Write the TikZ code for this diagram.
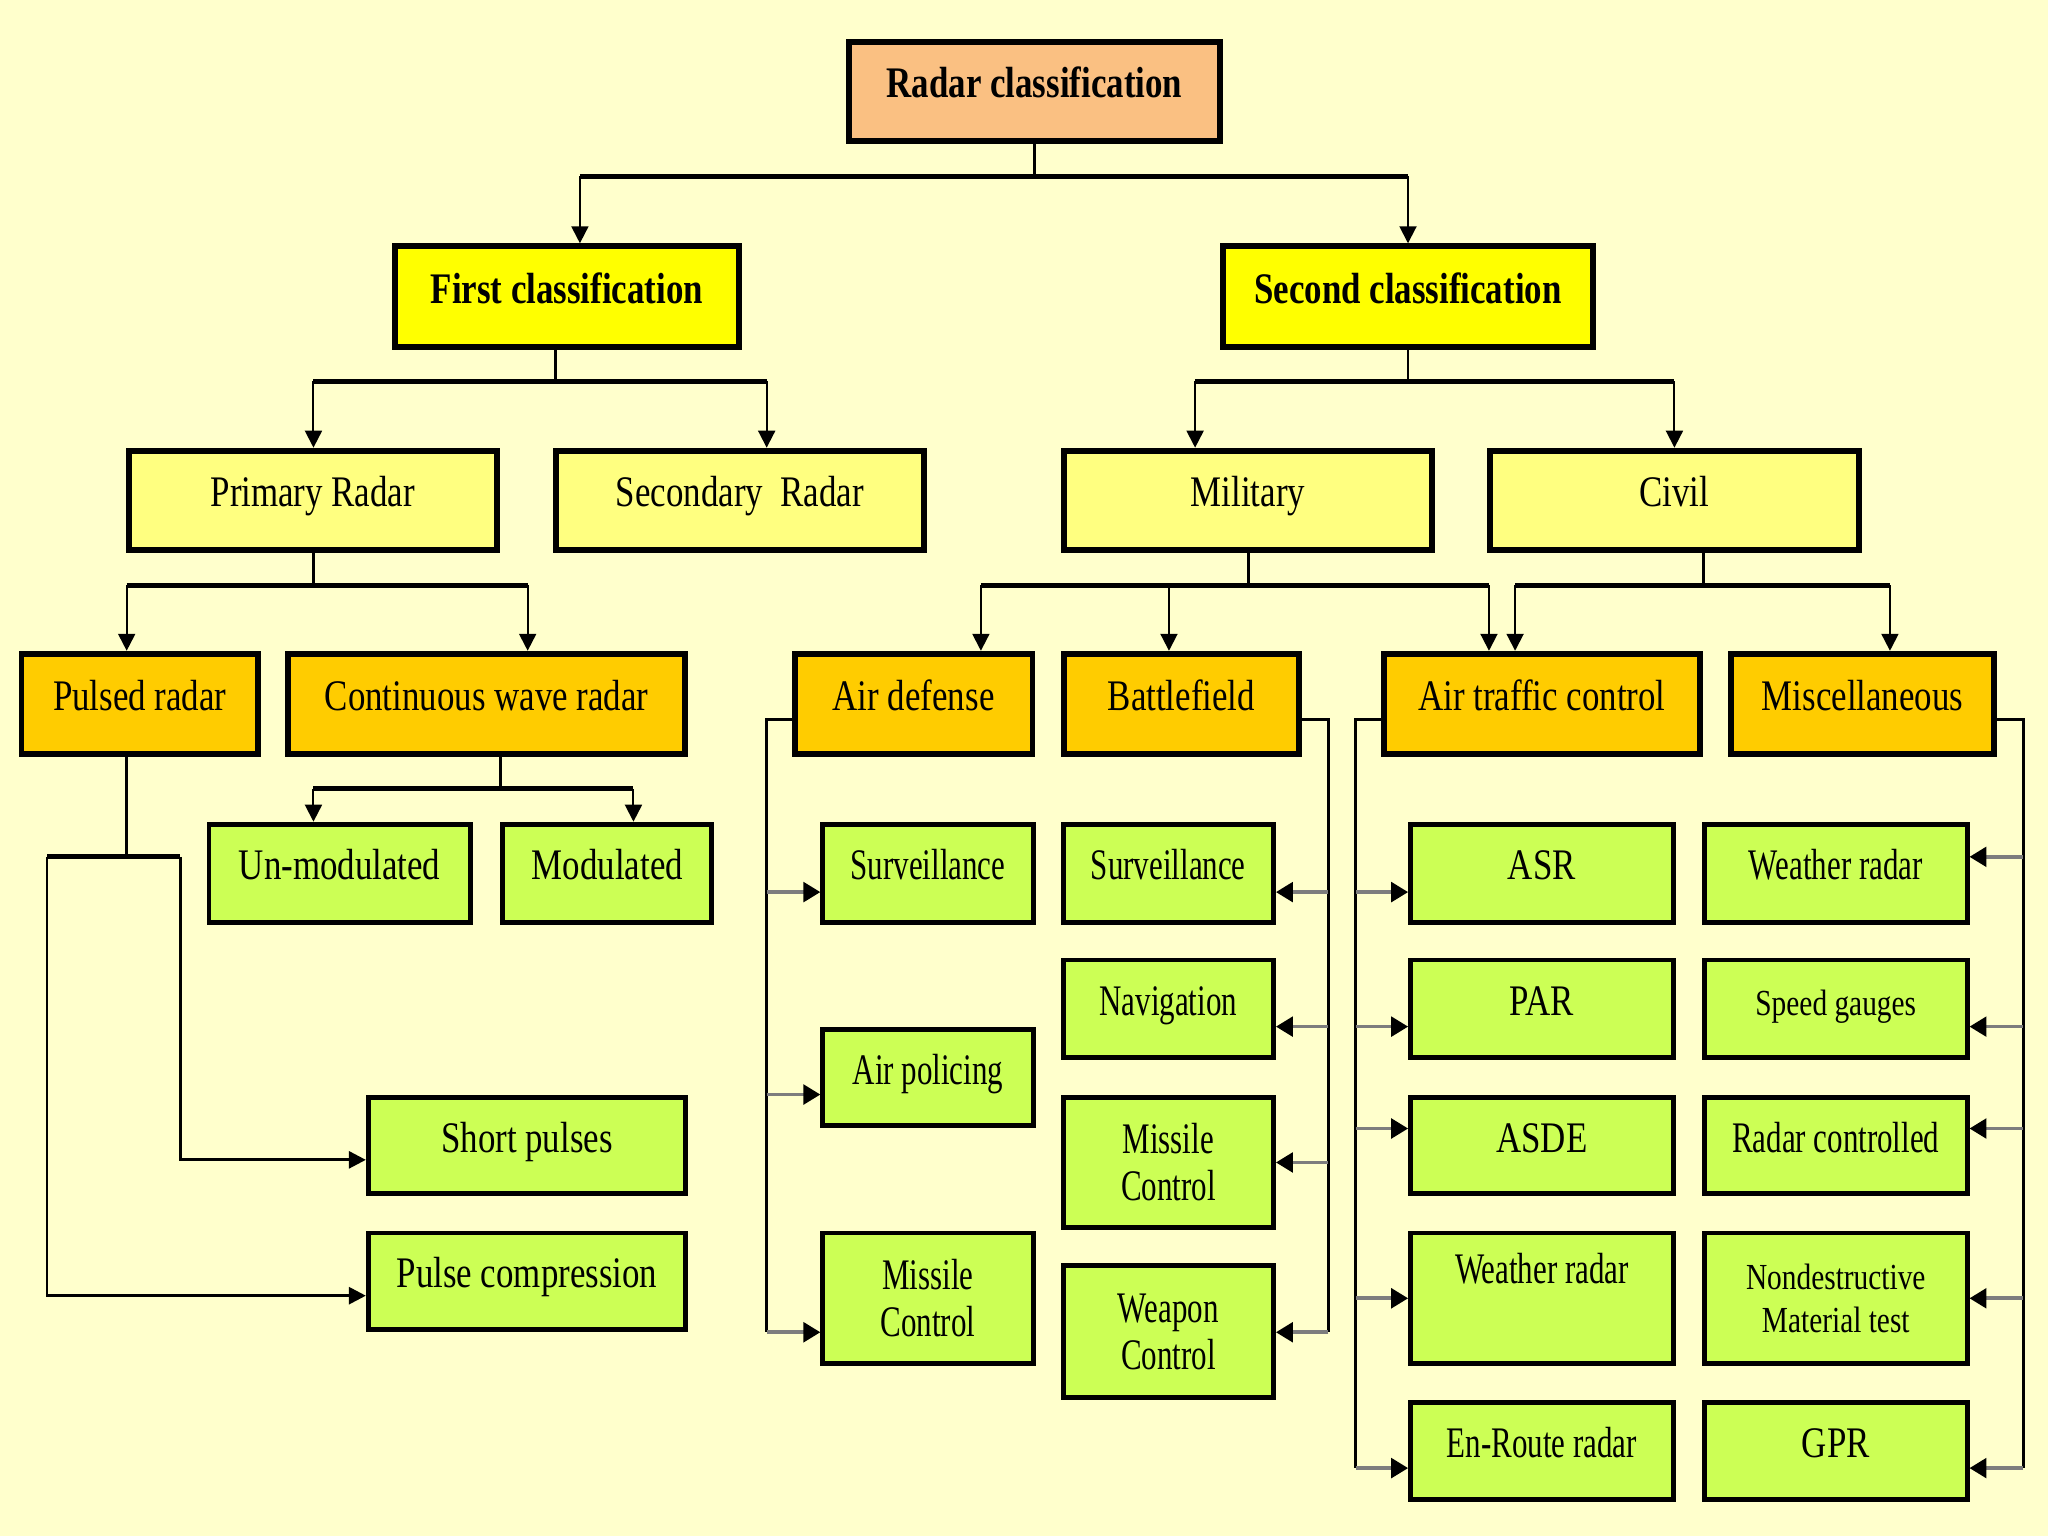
\documentclass[tikz,border=0pt]{standalone}
\usepackage{fontspec}
\setmainfont{Liberation Serif}[FakeStretch=0.8, BoldFeatures={FakeStretch=0.8}]
\newfontfamily\estrecha{Liberation Serif}[FakeStretch=0.71]
\usetikzlibrary{arrows.meta}
\definecolor{crema}{RGB}{255,255,204}
\definecolor{pastel}{RGB}{250,192,130}
\definecolor{canario}{RGB}{255,255,0}
\definecolor{paja}{RGB}{255,255,128}
\definecolor{ambar}{RGB}{255,204,0}
\definecolor{pistacho}{RGB}{204,255,85}
\definecolor{gris}{RGB}{125,125,125}

\begin{document}
\begin{tikzpicture}[x=0.1mm, y=-0.1mm,
    caja/.style={draw, line width=0.45mm, inner sep=0pt, font=\fontsize{9.5}{10.4}\selectfont},
    una/.style={text height=2.4mm, text depth=1.4mm},
    tam/.style 2 args={minimum width=#1mm, minimum height=#2mm},
    melocoton/.style={caja, una, fill=pastel, font=\fontsize{9.5}{10.4}\selectfont\bfseries},
    amarillo/.style={caja, una, fill=canario, font=\fontsize{9.5}{10.4}\selectfont\bfseries},
    amarillito/.style={caja, una, fill=paja},
    naranja/.style={caja, una, fill=ambar},
    verde/.style={caja, una, fill=pistacho, line width=0.38mm},
    verdes/.style={caja, fill=pistacho, line width=0.38mm, align=center},
    chica/.style={font=\fontsize{8}{9.4}\selectfont},
    estrecha/.style={font=\estrecha\fontsize{9.5}{10.2}\selectfont},
    linea/.style={line width=0.22mm},
    barra/.style={line width=0.38mm},
    flecha/.style={line width=0.15mm, -{Triangle[width=1.3mm, length=1.3mm]}},
    ramal/.style={draw=gris, line width=0.28mm, -{Triangle[width=1.5mm, length=1.3mm, color=black]}}]
        \fill[crema] (0,0) rectangle (1568,1176);
        \useasboundingbox (0,0) rectangle (1568,1176);

        \node[melocoton, tam={28.4}{7.6}] (R) at (792,70) {Radar classification};
        \node[amarillo, tam={26.3}{7.7}] (FC) at (434,227) {First classification};
        \node[amarillo, tam={28.3}{7.7}] (SC) at (1078,227) {Second classification};

        \node[amarillito, tam={28.2}{7.6}] (PR) at (239.5,383) {Primary Radar};
        \node[amarillito, tam={28.2}{7.6}] (SR) at (566.5,383) {Secondary~ Radar};
        \node[amarillito, tam={28.2}{7.6}] (MI) at (955.5,383) {Military};
        \node[amarillito, tam={28.3}{7.6}] (CI) at (1282,383) {Civil};

        \node[naranja, tam={18.1}{7.7}] (PU) at (107,539) {Pulsed radar};
        \node[naranja, tam={30.4}{7.7}] (CW) at (372.5,539) {Continuous wave radar};
        \node[naranja, tam={18.2}{7.7}] (AD) at (699.5,539) {Air defense};
        \node[naranja, tam={18.0}{7.7}] (BF) at (904.5,539) {Battlefield};
        \node[naranja, tam={24.2}{7.7}] (AT) at (1180.5,539) {Air traffic control};
        \node[naranja, tam={20.1}{7.7}] (MS) at (1426,539) {Miscellaneous};

        \node[verde, tam={20.0}{7.5}] (UM) at (260,668.5) {Un-modulated};
        \node[verde, tam={16.0}{7.5}] (MO) at (465,668.5) {Modulated};
        \node[verde, tam={24.3}{7.4}] (SP) at (403.5,877) {Short pulses};
        \node[verde, tam={24.3}{7.4}] (PC) at (403.5,981) {Pulse compression};

        \node[verde, estrecha, tam={16.1}{7.5}] (AD1) at (710.5,668.5) {Surveillance};
        \node[verde, estrecha, tam={16.1}{7.4}] (AD2) at (710.5,825) {Air policing};
        \node[verdes, estrecha, tam={16.1}{10.0}] (AD3) at (710.5,994) {Missile\\Control};

        \node[verde, estrecha, tam={16.1}{7.5}] (BF1) at (894.5,668.5) {Surveillance};
        \node[verde, estrecha, tam={16.1}{7.5}] (BF2) at (894.5,772.5) {Navigation};
        \node[verdes, estrecha, tam={16.1}{10.0}] (BF3) at (894.5,890) {Missile\\Control};
        \node[verdes, estrecha, tam={16.1}{10.1}] (BF4) at (894.5,1019.5) {Weapon\\Control};

        \node[verde, tam={20.1}{7.5}] (AT1) at (1180.5,668.5) {ASR};
        \node[verde, tam={20.1}{7.5}] (AT2) at (1180.5,772.5) {PAR};
        \node[verde, tam={20.1}{7.4}] (AT3) at (1180.5,877) {ASDE};
        \node[verde, estrecha, tam={20.1}{10.0}, text depth=4.6mm] (AT4) at (1180.5,994) {Weather radar};
        \node[verde, estrecha, tam={20.1}{7.4}] (AT5) at (1180.5,1111) {En-Route radar};

        \node[verde, estrecha, tam={20.1}{7.5}] (MS1) at (1405.5,668.5) {Weather radar};
        \node[verde, chica, tam={20.1}{7.5}] (MS2) at (1405.5,772.5) {Speed gauges};
        \node[verde, estrecha, tam={20.1}{7.4}] (MS3) at (1405.5,877) {Radar controlled};
        \node[verdes, chica, tam={20.1}{10.0}] (MS4) at (1405.5,994) {Nondestructive\\Material test};
        \node[verde, tam={20.1}{7.4}] (MS5) at (1405.5,1111) {GPR};

        \draw[linea] (R.south) -- (792,135);
        \draw[barra] (444,135) -- (1078,135);
        \draw[flecha] (444,135) -- (FC.north -| 444,0);
        \draw[flecha] (1078,135) -- (SC.north);

        \draw[linea] (FC.south -| 425,0) -- (425,292);
        \draw[barra] (240,292) -- (587,292);
        \draw[flecha] (240,292) -- (PR.north -| 240,0);
        \draw[flecha] (587,292) -- (SR.north -| 587,0);

        \draw[linea] (SC.south) -- (1078,292);
        \draw[barra] (915,292) -- (1282,292);
        \draw[flecha] (915,292) -- (MI.north -| 915,0);
        \draw[flecha] (1282,292) -- (CI.north);

        \draw[linea] (PR.south -| 240,0) -- (240,448);
        \draw[barra] (97,448) -- (404,448);
        \draw[flecha] (97,448) -- (PU.north -| 97,0);
        \draw[flecha] (404,448) -- (CW.north -| 404,0);

        \draw[linea] (MI.south -| 956,0) -- (956,448);
        \draw[barra] (751,448) -- (1140,448);
        \draw[flecha] (751,448) -- (AD.north -| 751,0);
        \draw[flecha] (895,448) -- (BF.north -| 895,0);
        \draw[flecha] (1140,448) -- (AT.north -| 1140,0);

        \draw[linea] (CI.south -| 1304,0) -- (1304,448);
        \draw[barra] (1160,448) -- (1447,448);
        \draw[flecha] (1160,448) -- (AT.north -| 1160,0);
        \draw[flecha] (1447,448) -- (MS.north -| 1447,0);

        \draw[linea] (CW.south -| 383,0) -- (383,604);
        \draw[barra] (240,604) -- (485,604);
        \draw[flecha] (240,604) -- (UM.north -| 240,0);
        \draw[flecha] (485,604) -- (MO.north -| 485,0);

        \draw[linea] (PU.south -| 97,0) -- (97,656);
        \draw[barra] (36,656) -- (138,656);
        \draw[flecha, line width=0.22mm] (138,656) |- (SP.west |- 0,888);
        \draw[flecha, line width=0.22mm] (36,656) |- (PC.west |- 0,992);

        \draw[linea] (AD.west |- 0,551) -| (587,1020);
        \draw[ramal] (587,683) -- (AD1.west |- 0,683);
        \draw[ramal] (587,838) -- (AD2.west |- 0,838);
        \draw[ramal] (587,1020) -- (AD3.west |- 0,1020);

        \draw[linea] (BF.east |- 0,551) -| (1017,1020);
        \draw[ramal] (1017,683) -- (BF1.east |- 0,683);
        \draw[ramal] (1017,786) -- (BF2.east |- 0,786);
        \draw[ramal] (1017,890) -- (BF3.east |- 0,890);
        \draw[ramal] (1017,1020) -- (BF4.east |- 0,1020);

        \draw[linea] (AT.west |- 0,551) -| (1038,1124);
        \draw[ramal] (1038,683) -- (AT1.west |- 0,683);
        \draw[ramal] (1038,786) -- (AT2.west |- 0,786);
        \draw[ramal] (1038,864) -- (AT3.west |- 0,864);
        \draw[ramal] (1038,994) -- (AT4.west |- 0,994);
        \draw[ramal] (1038,1124) -- (AT5.west |- 0,1124);

        \draw[linea] (MS.east |- 0,551) -| (1549,1124);
        \draw[ramal] (1549,656) -- (MS1.east |- 0,656);
        \draw[ramal] (1549,786) -- (MS2.east |- 0,786);
        \draw[ramal] (1549,864) -- (MS3.east |- 0,864);
        \draw[ramal] (1549,994) -- (MS4.east |- 0,994);
        \draw[ramal] (1549,1124) -- (MS5.east |- 0,1124);
    \end{tikzpicture}
\end{document}
